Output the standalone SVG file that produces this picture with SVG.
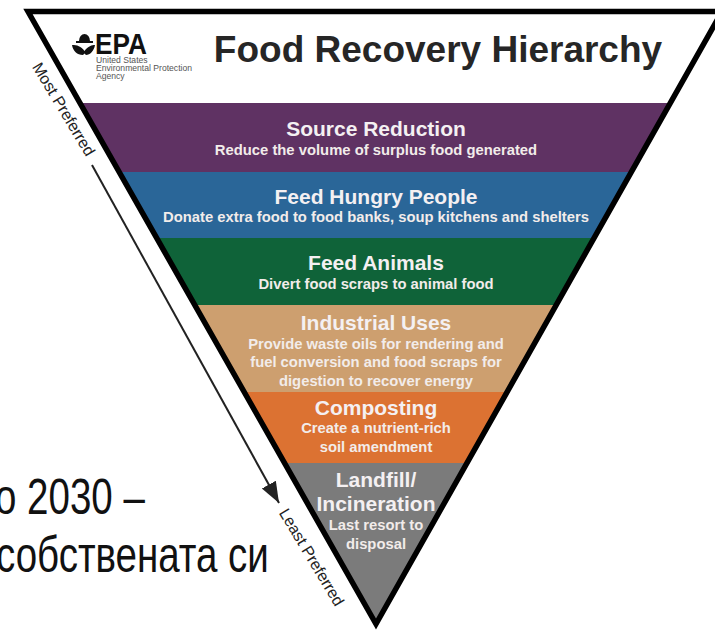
<svg xmlns="http://www.w3.org/2000/svg" width="715" height="630" viewBox="0 0 715 630">
<style>
text{font-family:"Liberation Sans",Arial,sans-serif;text-anchor:middle}
.h{font-size:21px;font-weight:700;fill:#f4f0f2}
.s{font-size:14.8px;font-weight:700;fill:#f2ecea}
.side{font-size:16px;font-weight:400;fill:#222}
.bg{font-size:50px;fill:#111;text-anchor:start}
.sm{font-size:8.6px;fill:#555;text-anchor:start}
</style>
<defs><marker id="ah" markerUnits="userSpaceOnUse" markerWidth="22" markerHeight="18" refX="21" refY="8" orient="auto"><path d="M0 0L21 8L0 16Z" fill="#222"/></marker></defs>
<rect width="715" height="630" fill="#fff"/>
<g id="caption"><text class="bg" transform="translate(-5 514) scale(.77 1)">о 2030 –</text><text class="bg" transform="translate(-4 572) scale(.77 1)">собствената си</text></g>
<g id="band-source"><polygon points="79,103 670,103 631,172 118,172" fill="#5f3263"/><text class="h" x="376" y="136">Source Reduction</text><text class="s" x="376" y="155">Reduce the volume of surplus food generated</text></g>
<g id="band-hungry"><polygon points="118,172 631,172 594,238 156,238" fill="#2a6698"/><text class="h" x="376" y="204">Feed Hungry People</text><text class="s" x="376" y="222">Donate extra food to food banks, soup kitchens and shelters</text></g>
<g id="band-animals"><polygon points="156,238 594,238 556,305 194,305" fill="#0f6339"/><text class="h" x="376" y="270">Feed Animals</text><text class="s" x="376" y="289">Divert food scraps to animal food</text></g>
<g id="band-industrial"><polygon points="194,305 556,305 508,392 243,392" fill="#cd9f6f"/><text class="h" x="376" y="330">Industrial Uses</text><text class="s" x="376" y="349">Provide waste oils for rendering and</text><text class="s" x="376" y="367">fuel conversion and food scraps for</text><text class="s" x="376" y="386">digestion to recover energy</text></g>
<g id="band-composting"><polygon points="243,392 508,392 468,463 283,463" fill="#dc7232"/><text class="h" x="376" y="415">Composting</text><text class="s" x="376" y="433">Create a nutrient-rich</text><text class="s" x="376" y="452">soil amendment</text></g>
<g id="band-landfill"><polygon points="283,463 468,463 376,627" fill="#7b7b7b"/><text class="h" x="376" y="487">Landfill/</text><text class="h" x="376" y="511">Incineration</text><text class="s" x="376" y="530">Last resort to</text><text class="s" x="376" y="549">disposal</text></g>
<g id="frame"><polygon points="28,11.5 722,11.5 376,624" fill="none" stroke="#000" stroke-width="5.5" stroke-linejoin="miter"/></g>
<g id="header"><text x="438" y="62" font-size="37" font-weight="700" fill="#262626">Food Recovery Hierarchy</text>
<g id="epa-logo"><path d="M79 41a5.500 7 0 0 1 11 0h3v2H76v-2ZM72 45c5 0 9 1 12.500 6c3.500-5 7.500-6 10.500-6c-1 6-5 10-9 10l-1.500-1.500L83 55c-6 0-10-4-11-10Z" fill="#111"/><text x="121" y="54" font-size="29" font-weight="700" fill="#111" textLength="52" lengthAdjust="spacingAndGlyphs">EPA</text><text class="sm" x="96" y="63">United States</text><text class="sm" x="96" y="71">Environmental Protection</text><text class="sm" x="96" y="78.500">Agency</text></g></g>
<g id="connectors"><path d="M92 165L279 503" fill="none" stroke="#222" stroke-width="2" marker-end="url(#ah)"/></g>
<g id="side-labels"><text class="side" transform="translate(59 112) rotate(59)">Most Preferred</text><text class="side" transform="translate(307 560) rotate(59)">Least Preferred</text></g>
</svg>
